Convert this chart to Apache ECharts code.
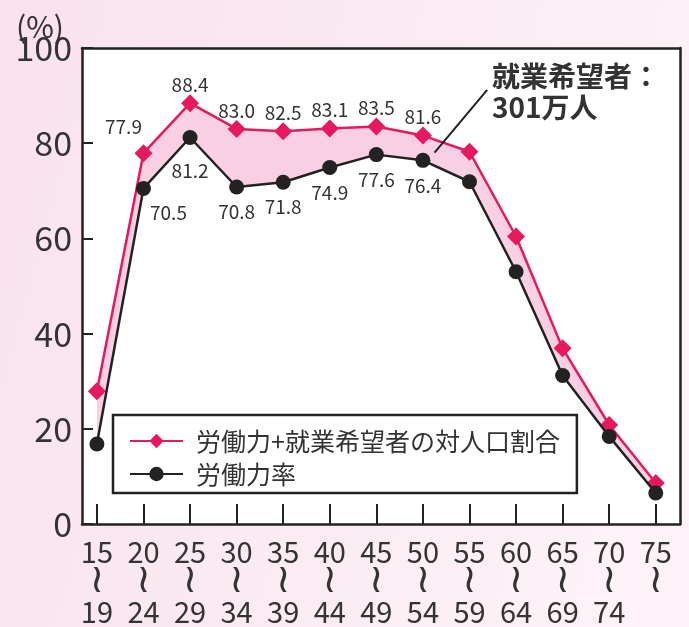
<!DOCTYPE html>
<html>
<head>
<meta charset="utf-8">
<script src="https://cdn.jsdelivr.net/npm/echarts@6/dist/echarts.min.js"></script>
<style>
  html, body { margin: 0; padding: 0; }
  #chart { width: 689px; height: 627px; }
</style>
</head>
<body>
<div id="chart"></div>
<script>
// Age groups (lower bound / upper bound)
const ageFrom = ['15', '20', '25', '30', '35', '40', '45', '50', '55', '60', '65', '70', '75'];
const ageTo   = ['19', '24', '29', '34', '39', '44', '49', '54', '59', '64', '69', '74', ''];

// 労働力+就業希望者の対人口割合 (%)
const withHopeful = [27.9, 77.9, 88.4, 83.0, 82.5, 83.1, 83.5, 81.6, 78.2, 60.4, 36.9, 20.8, 8.6];
// 労働力率 (%)
const laborRate   = [16.8, 70.5, 81.2, 70.8, 71.8, 74.9, 77.6, 76.4, 71.9, 53.0, 31.2, 18.4, 6.5];

// Which points carry a value label
const labeledIdx = [1, 2, 3, 4, 5, 6, 7];

const yTicks = [0, 20, 40, 60, 80, 100];

const FONT = '"Noto Sans CJK JP", "Noto Sans", sans-serif';
const TEXT = '#333333';
const PINK = '#e6195f';
const INK = '#222222';

const idx = ageFrom.map((_, i) => i);
const X_MIN = -0.32;
const X_MAX = 12.52;

function pts(values) {
  return values.map((v, i) => [i, v]);
}

function labelFor(values, i) {
  return labeledIdx.indexOf(i) >= 0 ? values[i].toFixed(1) : '';
}

// plain frame axis (top / right edges of the plot box)
function frameAxis(type, position) {
  return {
    type: 'value',
    position: position,
    min: type === 'x' ? X_MIN : 0,
    max: type === 'x' ? X_MAX : 100,
    z: 5,
    axisLine: { show: true, onZero: false, lineStyle: { color: INK, width: 2.5 } },
    axisTick: { show: false },
    axisLabel: { show: false },
    splitLine: { show: false }
  };
}

const chart = echarts.init(document.getElementById('chart'));

chart.setOption({
  animation: false,
  backgroundColor: {
    type: 'linear', x: 0, y: 0, x2: 1, y2: 0.3,
    colorStops: [
      { offset: 0, color: '#f9e1ed' },
      { offset: 1, color: '#fcf2f7' }
    ]
  },
  textStyle: { fontFamily: FONT },
  grid: {
    left: 82, right: 9, top: 48, bottom: 102,
    show: true,
    backgroundColor: '#ffffff',
    borderWidth: 0
  },
  xAxis: [
    {
      type: 'value',
      position: 'bottom',
      min: X_MIN,
      max: X_MAX,
      z: 5,
      splitLine: { show: false },
      axisLine: { show: true, onZero: false, lineStyle: { color: INK, width: 2.5 } },
      axisTick: {
        show: true, inside: true, length: 20,
        customValues: idx,
        lineStyle: { color: INK, width: 2 }
      },
      axisLabel: {
        customValues: idx,
        margin: 13,
        fontFamily: FONT,
        fontSize: 29,
        lineHeight: 30,
        color: TEXT,
        formatter: (v) => {
          const i = Math.round(v);
          return ageFrom[i] + '\n{t|≀}\n' + (ageTo[i] || ' ');
        },
        rich: {
          t: { fontFamily: '"DejaVu Sans", sans-serif', fontSize: 40, lineHeight: 30, color: TEXT }
        }
      }
    },
    frameAxis('x', 'top')
  ],
  yAxis: [
    {
      type: 'value',
      position: 'left',
      min: 0,
      max: 100,
      interval: 20,
      z: 5,
      splitLine: { show: false },
      axisLine: { show: true, onZero: false, lineStyle: { color: INK, width: 2.5 } },
      axisTick: { show: true, inside: true, length: 11, lineStyle: { color: INK, width: 2 } },
      axisLabel: {
        margin: 10,
        fontFamily: FONT,
        fontSize: 34,
        color: TEXT,
        formatter: (v) => (yTicks.indexOf(v) >= 0 ? String(v) : '')
      }
    },
    frameAxis('y', 'right')
  ],
  legend: {
    orient: 'vertical',
    left: 113,
    top: 415,
    data: ['労働力+就業希望者の対人口割合', '労働力率'],
    backgroundColor: '#ffffff',
    borderColor: INK,
    borderWidth: 2.5,
    borderRadius: 0,
    padding: [13, 17, 6, 16],
    itemGap: 7,
    itemWidth: 53,
    itemHeight: 18,
    textStyle: {
      fontFamily: FONT,
      fontSize: 25,
      lineHeight: 26,
      color: TEXT,
      padding: [0, 0, 0, 8]
    }
  },
  graphic: [
    {
      type: 'text',
      left: 16,
      top: 12,
      style: { text: '(%)', font: '30px ' + FONT, fill: TEXT }
    },
    {
      type: 'text',
      left: 492,
      top: 61,
      z: 10,
      style: {
        text: '就業希望者：\n301万人',
        font: 'bold 28px ' + FONT,
        lineHeight: 31,
        fill: TEXT
      }
    }
  ],
  series: [
    {
      // shaded band between the two lines: 就業希望者
      type: 'custom',
      name: 'band',
      silent: true,
      z: 1,
      data: [[0, 0]],
      renderItem: (params, api) => {
        const upper = withHopeful.map((v, i) => api.coord([i, v]));
        const lower = laborRate.map((v, i) => api.coord([i, v])).reverse();
        return {
          type: 'polygon',
          shape: { points: upper.concat(lower) },
          style: { fill: '#f9cfe4', stroke: null }
        };
      }
    },
    {
      name: '労働力+就業希望者の対人口割合',
      type: 'line',
      z: 3,
      data: pts(withHopeful),
      symbol: 'diamond',
      symbolSize: 18,
      itemStyle: { color: PINK },
      lineStyle: { color: PINK, width: 2.5 },
      label: {
        show: true,
        position: 'top',
        distance: 0,
        fontFamily: FONT,
        fontSize: 19,
        color: TEXT,
        formatter: (p) => labelFor(withHopeful, p.dataIndex)
      },
      labelLayout: (p) => (p.dataIndex === 1 ? { dx: -20, dy: -8 } : {}),
      markLine: {
        silent: true,
        symbol: ['none', 'none'],
        label: { show: false },
        lineStyle: { color: INK, width: 2, type: 'solid' },
        data: [[{ coord: [7.25, 78.0] }, { coord: [8.38, 91.2] }]]
      }
    },
    {
      name: '労働力率',
      type: 'line',
      z: 4,
      data: pts(laborRate),
      symbol: 'circle',
      symbolSize: 15,
      itemStyle: { color: INK },
      lineStyle: { color: INK, width: 2.5 },
      label: {
        show: true,
        position: 'bottom',
        distance: 8,
        fontFamily: FONT,
        fontSize: 19,
        color: TEXT,
        formatter: (p) => labelFor(laborRate, p.dataIndex)
      },
      labelLayout: (p) => {
        if (p.dataIndex === 1) return { dx: 25, dy: -1 };
        if (p.dataIndex === 2) return { dy: 8 };
        return {};
      }
    }
  ]
});
</script>
</body>
</html>
